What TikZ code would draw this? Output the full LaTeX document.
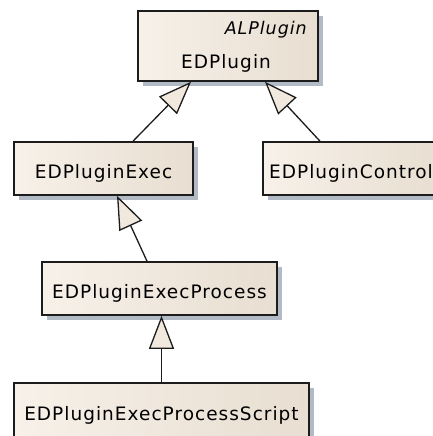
\documentclass[tikz,border=0pt]{standalone}
\usepackage{fontspec}
\setmainfont{DejaVu Sans}[LetterSpace=5.5]
\usetikzlibrary{arrows.meta,shadows}

\definecolor{boxleft}{RGB}{247,241,233}
\definecolor{boxright}{RGB}{232,222,209}
\definecolor{boxfill}{RGB}{241,233,222}
\definecolor{shadowgray}{RGB}{178,186,198}
\definecolor{edge}{RGB}{28,28,28}

\begin{document}
\begin{tikzpicture}[x=1pt,y=1pt,
  classbox/.style={draw=edge, line width=1.6pt,
    left color=boxleft, right color=boxright,
    inner sep=0pt, text height=19pt, text depth=0pt,
    font=\fontsize{18.5}{20}\selectfont,
    drop shadow={shadow xshift=5pt, shadow yshift=-5pt,
      fill=shadowgray, opacity=1}},
  classname/.style={font=\fontsize{18.5}{20}\selectfont, inner sep=0pt},
  stereotype/.style={font=\fontsize{17.5}{20}\selectfont\itshape, inner sep=0pt},
  inherit/.style={draw=edge, line width=1.3pt,
    -{Triangle[length=33pt, width=25pt, fill=boxfill, line width=1.3pt]}}
]
\useasboundingbox (0,0) rectangle (433,-436);
\clip (0,0) rectangle (433,-436);

% abstract base class with its stereotype
\node[classbox, minimum width=180pt, minimum height=70pt] (plugin) at (228,-46) {};
\node[stereotype, anchor=base east] (stereo) at (307,-35) {ALPlugin};
\node[classname, anchor=base west] (pluginname) at (181,-69) {EDPlugin};

% derived classes
\node[classbox, minimum width=179pt, minimum height=53pt] (exec) at (103.5,-168.5) {EDPluginExec};
\node[classbox, minimum width=176pt, minimum height=53pt] (control) at (351,-168.5) {EDPluginControl};
\node[classbox, minimum width=235pt, minimum height=53pt] (process) at (159.5,-288.5) {EDPluginExecProcess};
\node[classbox, minimum width=295pt, minimum height=56pt] (script) at (161.5,-411) {EDPluginExecProcessScript};

% generalisation links
\draw[inherit] ([xshift=29.5pt]exec.north) -- ([xshift=-37pt]plugin.south);
\draw[inherit] ([xshift=-31pt]control.north) -- ([xshift=37pt]plugin.south);
\draw[inherit] ([xshift=-12.5pt]process.north) -- ([xshift=13.5pt]exec.south);
\draw[inherit] (script.north) -- (script.north |- process.south);
\end{tikzpicture}
\end{document}
